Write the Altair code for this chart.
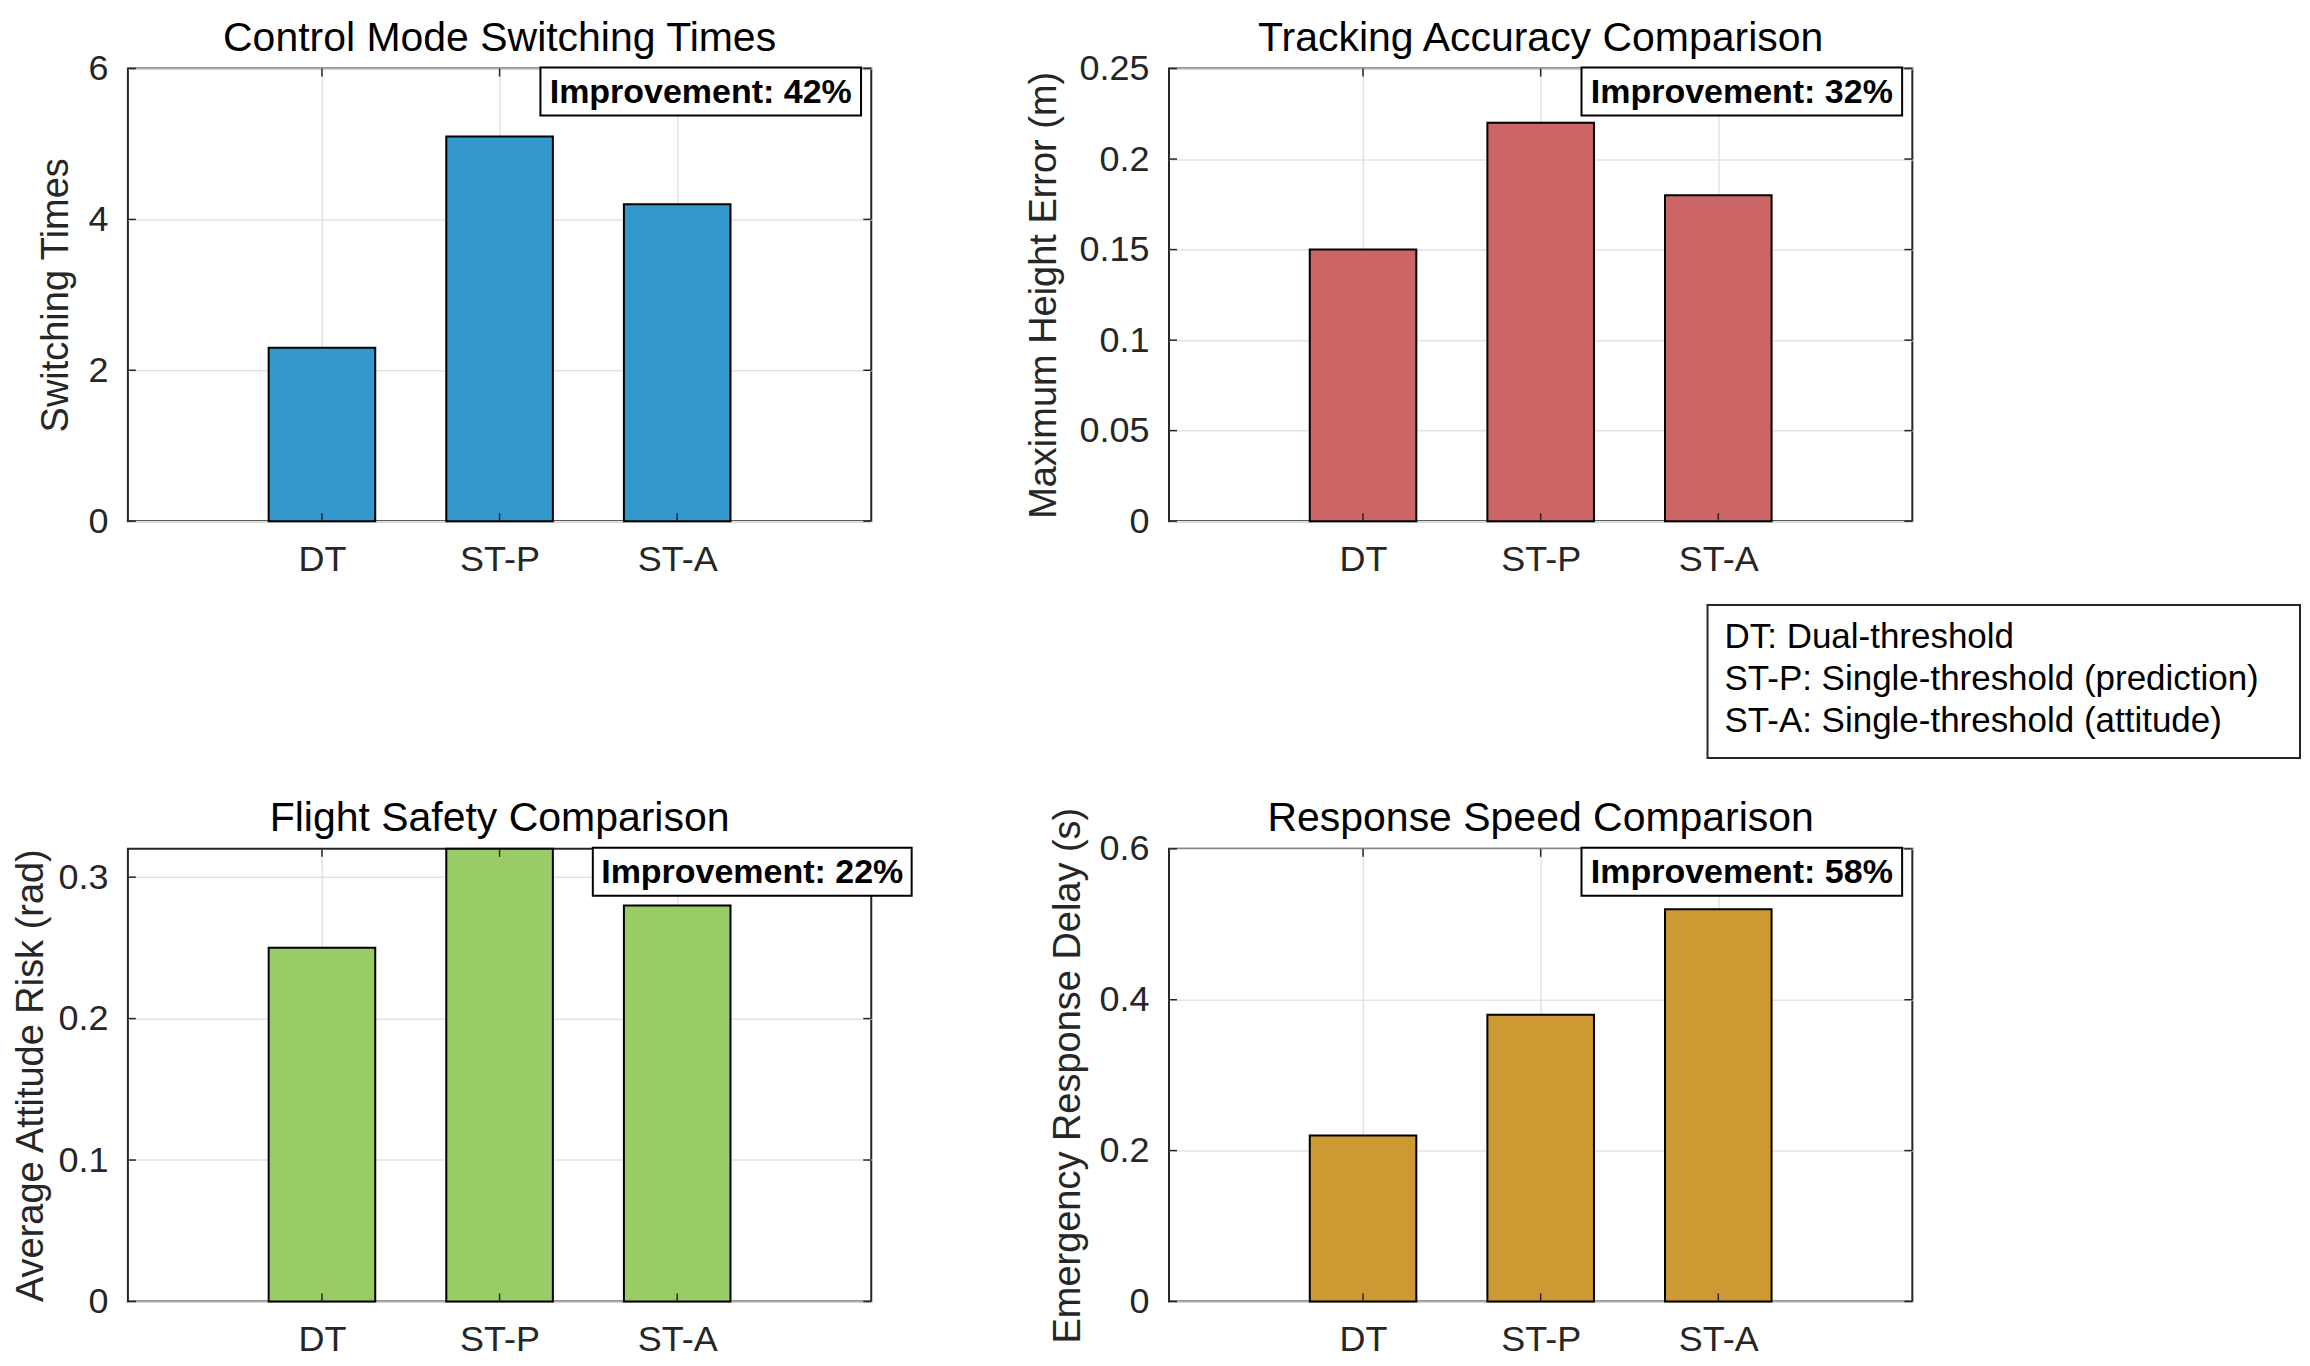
import altair as alt
import pandas as pd

# ---------------- data ----------------
categories = ["DT", "ST-P", "ST-A"]
cat_index = [1, 2, 3]
switching_times = [2.3, 5.1, 4.2]
height_error = [0.15, 0.22, 0.18]
attitude_risk = [0.25, 0.32, 0.28]
response_delay = [0.22, 0.38, 0.52]

panel_values = [switching_times, height_error, attitude_risk, response_delay]
titles = ["Control Mode Switching Times", "Tracking Accuracy Comparison",
          "Flight Safety Comparison", "Response Speed Comparison"]
ylabels = ["Switching Times", "Maximum Height Error (m)",
           "Average Attitude Risk (rad)", "Emergency Response Delay (s)"]
colors = ["#3399CC", "#CC6666", "#99CC66", "#CC9933"]
y_domains = [[0, 6], [0, 0.25], [0, 0.32], [0, 0.6]]
y_ticks = [[0, 2, 4, 6], [0, 0.05, 0.1, 0.15, 0.2, 0.25],
           [0, 0.1, 0.2, 0.3], [0, 0.2, 0.4, 0.6]]
improvements = ["Improvement: 42%", "Improvement: 32%",
                "Improvement: 22%", "Improvement: 58%"]
# annotation box extent in data (category-index) units
box_x0 = [2.23, 2.23, 2.525, 2.23]
box_x1 = [4.035, 4.035, 4.32, 4.035]
legend_lines = ["DT: Dual-threshold",
                "ST-P: Single-threshold (prediction)",
                "ST-A: Single-threshold (attitude)"]

# ---------------- style ----------------
W, H = 744, 453
X_DOMAIN = [-0.0925, 4.0925]
BAR_HALF = 0.3
FONT = "Liberation Sans"
AX = "#262626"
GRID = "#e3e3e3"
title_pads = [20, 24, 15, 20]

label_expr = "[" + ",".join("'" + c + "'" for c in categories) + "][datum.value-1]"


def panel(i):
    df = pd.DataFrame({"cat": categories, "idx": cat_index, "value": panel_values[i]})
    xscale = alt.Scale(domain=X_DOMAIN, nice=False, zero=False)
    yscale = alt.Scale(domain=y_domains[i], nice=False, zero=True)
    xaxis = alt.Axis(values=cat_index, labelExpr=label_expr, title=None,
                     grid=True, ticks=False, tickSize=0, domain=False,
                     labelPadding=21, gridColor=GRID, gridWidth=1.5)
    yaxis = alt.Axis(values=y_ticks[i], format="~g", title=ylabels[i],
                     grid=True, ticks=False, tickSize=0, domain=False,
                     labelPadding=20, gridColor=GRID, gridWidth=1.5,
                     titleBaseline="alphabetic", titlePadding=title_pads[i])

    bars = alt.Chart(df).transform_calculate(
        x0=f"datum.idx - {BAR_HALF}", x1=f"datum.idx + {BAR_HALF}"
    ).mark_bar(color=colors[i], stroke="black", strokeWidth=2).encode(
        x=alt.X("x0:Q", scale=xscale, axis=xaxis),
        x2="x1:Q",
        y=alt.Y("value:Q", scale=yscale, axis=yaxis),
        y2=alt.datum(0),
    )

    ydf = pd.DataFrame({"v": y_ticks[i]})
    xdf = pd.DataFrame({"idx": cat_index})
    tick_style = dict(color=AX, strokeWidth=1.5)
    yt_left = alt.Chart(ydf).mark_rule(**tick_style).encode(
        y=alt.Y("v:Q", scale=yscale, axis=yaxis), x=alt.value(0), x2=alt.value(8))
    yt_right = alt.Chart(ydf).mark_rule(**tick_style).encode(
        y=alt.Y("v:Q", scale=yscale, axis=yaxis), x=alt.value(W - 8), x2=alt.value(W))
    xt_bottom = alt.Chart(xdf).mark_rule(**tick_style).encode(
        x=alt.X("idx:Q", scale=xscale, axis=xaxis), y=alt.value(H - 8), y2=alt.value(H))
    xt_top = alt.Chart(xdf).mark_rule(**tick_style).encode(
        x=alt.X("idx:Q", scale=xscale, axis=xaxis), y=alt.value(0), y2=alt.value(8))

    adf = pd.DataFrame({"x0": [box_x0[i]], "x1": [box_x1[i]], "label": [improvements[i]]})
    box = alt.Chart(adf).mark_rect(fill="white", stroke="black", strokeWidth=2).encode(
        x=alt.X("x0:Q", scale=xscale, axis=xaxis), x2="x1:Q",
        y=alt.value(-1), y2=alt.value(47))
    btxt = alt.Chart(adf).transform_calculate(xm="(datum.x0 + datum.x1) / 2").mark_text(
        font=FONT, fontSize=34, fontWeight="bold", color="black",
        align="center", baseline="middle").encode(
        x=alt.X("xm:Q", scale=xscale, axis=xaxis), y=alt.value(24), text="label:N")

    tdf = pd.DataFrame({"t": [titles[i]]})
    ttl = alt.Chart(tdf).mark_text(
        font=FONT, fontSize=41, color="black", align="center", baseline="alphabetic"
    ).encode(x=alt.value(W / 2), y=alt.value(-18), text="t:N")

    layers = [bars, yt_left, yt_right, xt_bottom, xt_top, box, btxt, ttl]

    if i == 1:
        ldf = pd.DataFrame({"t": ["\n".join(legend_lines)]})
        lbox = alt.Chart(ldf).mark_rect(fill="white", stroke=AX, strokeWidth=2).encode(
            x=alt.value(539), x2=alt.value(1132), y=alt.value(537), y2=alt.value(690))
        ltxt = alt.Chart(ldf).mark_text(
            font=FONT, fontSize=35, color="black", align="left", baseline="middle",
            lineBreak="\n", lineHeight=42).encode(
            x=alt.value(556), y=alt.value(569), text="t:N")
        layers += [lbox, ltxt]

    return alt.layer(*layers).properties(width=W, height=H)


top = alt.hconcat(panel(0), panel(1), spacing=150)
bottom = alt.hconcat(panel(2), panel(3), spacing=133)
chart = alt.vconcat(top, bottom, spacing=37).configure_view(
    stroke=AX, strokeWidth=2
).configure_axis(
    labelFont=FONT, labelFontSize=36, labelColor=AX,
    titleFont=FONT, titleFontSize=38, titleFontWeight="normal", titleColor=AX,
).properties(
    padding={"left": 3, "top": 8, "right": 0, "bottom": 0},
    background="white",
)

chart.save("out.html", embed_options={"renderer": "svg", "actions": False})
